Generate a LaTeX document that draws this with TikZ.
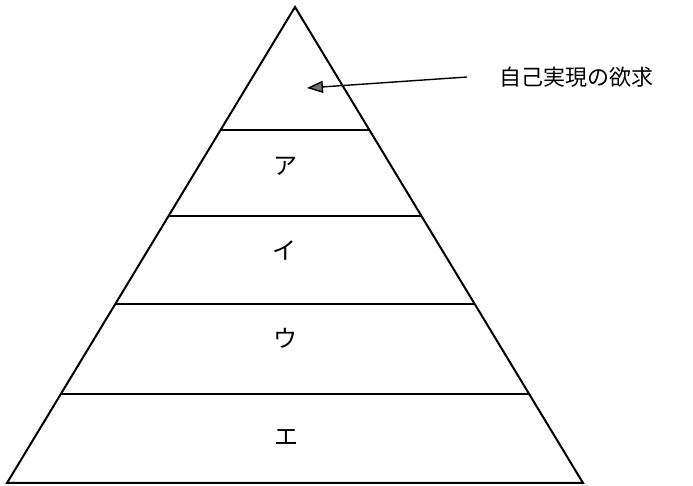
\documentclass[tikz,border=0pt]{standalone}
\usepackage{fontspec}
\newfontfamily\jpfont{Noto Sans CJK JP}
\usetikzlibrary{calc,arrows.meta}
\tikzset{level/.style={line width=0.8pt},
  kana/.style={font=\jpfont\fontsize{11pt}{13pt}\selectfont, inner sep=1pt}}

\begin{document}
\begin{tikzpicture}[x=0.5pt,y=-0.5pt]
      \useasboundingbox (0,0) rectangle (693,486);
      \coordinate (apex) at (295,7);
      \coordinate (lb) at (7,483);
      \coordinate (rb) at (583,483);
      \draw [line width=1pt, line join=miter] (apex) -- (lb) -- (rb) -- cycle;
      \foreach \t in {0.258,0.439,0.624,0.813}
        \draw [level] ($(apex)!\t!(lb)$) -- ($(apex)!\t!(rb)$);

      \node [kana, font=\jpfont\fontsize{12pt}{14pt}\selectfont] (a) at (285,166) {ア};
      \node [kana, font=\jpfont\fontsize{12pt}{14pt}\selectfont] (i) at (284,250) {イ};
      \node [kana, font=\jpfont\fontsize{12pt}{14pt}\selectfont] (u) at (285,338) {ウ};
      \node [kana, font=\jpfont\fontsize{12pt}{14pt}\selectfont] (e) at (287,437) {エ};

      \node [kana, anchor=west] (need) at (497,77) {自己実現の欲求};
      \coordinate (top) at (307,88);
      \draw [-{Triangle[length=8pt,width=6pt,fill=black!55]}, line width=0.7pt] ([xshift=-15pt]need.west) -- (top);
    \end{tikzpicture}
\end{document}
